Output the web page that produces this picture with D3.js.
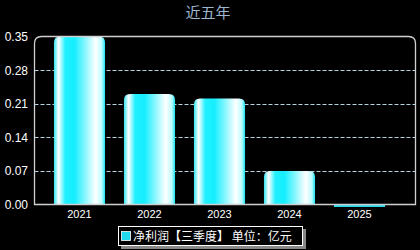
<!DOCTYPE html>
<html>
<head>
<meta charset="utf-8">
<script src="https://cdn.jsdelivr.net/npm/d3@7"></script>
<style>
  body { margin: 0; background: #000; }
  text { font-family: "Liberation Sans", "Noto Sans CJK SC", sans-serif; }
</style>
</head>
<body>
<div id="chart"></div>
<script>
// data
var years = ["2021", "2022", "2023", "2024", "2025"];
var profit = [0.35, 0.23, 0.221, 0.07, -0.004];
var yTicks = [0, 0.07, 0.14, 0.21, 0.28, 0.35];
var titleText = "近五年";
var legendText = "净利润【三季度】 单位：亿元";

var W = 420, H = 250;
var plot = {left: 34.5, top: 36.5, right: 415.5, bottom: 204.5};

var svg = d3.select("#chart").append("svg")
    .attr("width", W)
    .attr("height", H)
    .style("background-color", "#000");

var defs = svg.append("defs");
var grad = defs.append("linearGradient")
    .attr("id", "barGrad")
    .attr("x1", "0%").attr("x2", "100%")
    .attr("y1", "0%").attr("y2", "0%");
[["0%", "#2de6f2"], ["9%", "#ffffff"], ["22%", "#22f0ff"], ["40%", "#14eeff"],
 ["62%", "#8ef7ff"], ["82%", "#ffffff"], ["94%", "#b8fbff"], ["100%", "#10e4f4"]]
  .forEach(function(s) {
    grad.append("stop").attr("offset", s[0]).attr("stop-color", s[1]);
  });

// scales
var x = d3.scaleBand().domain(years).range([44.5, 394.5])
    .paddingInner(0.27).paddingOuter(0.135);
var y = d3.scaleLinear().domain([0, 0.35]).range([plot.bottom, plot.top]);

// title
svg.append("text")
  .attr("x", 208)
  .attr("y", 18)
  .attr("text-anchor", "middle")
  .attr("fill", "#9fb6cf")
  .style("font-family", "'Noto Sans CJK SC', sans-serif")
  .style("font-size", "15px")
  .text(titleText);

// grid lines
svg.append("g").selectAll("line")
  .data(yTicks.slice(1, -1))
  .enter().append("line")
    .attr("x1", plot.left).attr("x2", plot.right)
    .attr("y1", function(d) { return Math.round(y(d)) + 0.5; })
    .attr("y2", function(d) { return Math.round(y(d)) + 0.5; })
    .attr("stroke", "#b4d4e0")
    .attr("stroke-width", 1)
    .attr("stroke-dasharray", "4,2");

// bars with rounded top corners
function barPath(d, i) {
  var x0 = x(years[i]), w = x.bandwidth();
  var yv = y(d), y0 = y(0);
  if (d < 0) {
    return "M" + x0 + "," + y0 + "H" + (x0 + w) + "V" + (y0 + 2.5) + "H" + x0 + "Z";
  }
  var r = Math.min(6, (y0 - yv) / 2);
  return "M" + x0 + "," + y0 +
    "V" + (yv + r) +
    "Q" + x0 + "," + yv + " " + (x0 + r) + "," + yv +
    "H" + (x0 + w - r) +
    "Q" + (x0 + w) + "," + yv + " " + (x0 + w) + "," + (yv + r) +
    "V" + y0 + "Z";
}

svg.append("g").selectAll("path")
  .data(profit)
  .enter().append("path")
    .attr("d", barPath)
    .attr("fill", function(d) { return d < 0 ? "#22dcee" : "url(#barGrad)"; });

// frame with rounded top corners
var fr = 7;
svg.append("path")
  .attr("d", "M" + plot.left + "," + plot.bottom +
    "V" + (plot.top + fr) +
    "Q" + plot.left + "," + plot.top + " " + (plot.left + fr) + "," + plot.top +
    "H" + (plot.right - fr) +
    "Q" + plot.right + "," + plot.top + " " + plot.right + "," + (plot.top + fr) +
    "V" + plot.bottom + "Z")
  .attr("fill", "none")
  .attr("stroke", "#d0d0d0")
  .attr("stroke-width", 1.3);

// y axis labels
svg.append("g").selectAll("text")
  .data(yTicks)
  .enter().append("text")
    .attr("x", 28)
    .attr("y", function(d) { return y(d) + 4.5; })
    .attr("text-anchor", "end")
    .attr("fill", "#fff")
    .style("font-size", "12px")
    .text(function(d) { return d.toFixed(2); });

// x axis labels
svg.append("g").selectAll("text")
  .data(years)
  .enter().append("text")
    .attr("x", function(d) { return x(d) + x.bandwidth() / 2; })
    .attr("y", 218)
    .attr("text-anchor", "middle")
    .attr("fill", "#fff")
    .style("font-size", "11px")
    .text(function(d) { return d; });

// legend
var lg = svg.append("g");
lg.append("rect")
  .attr("x", 121).attr("y", 229).attr("width", 185).attr("height", 20)
  .attr("fill", "#888");
lg.append("rect")
  .attr("x", 118.5).attr("y", 226.5).attr("width", 184).attr("height", 19)
  .attr("fill", "#000")
  .attr("stroke", "#fff")
  .attr("stroke-width", 1);
lg.append("rect")
  .attr("x", 121.5).attr("y", 231.5).attr("width", 9).attr("height", 9)
  .attr("fill", "#22dcee")
  .attr("stroke", "#fff")
  .attr("stroke-width", 0.8);
lg.append("text")
  .attr("x", 133)
  .attr("y", 241)
  .attr("fill", "#fff")
  .style("font-family", "'Noto Sans CJK SC', sans-serif")
  .style("font-size", "12px")
  .text(legendText);
</script>
</body>
</html>
